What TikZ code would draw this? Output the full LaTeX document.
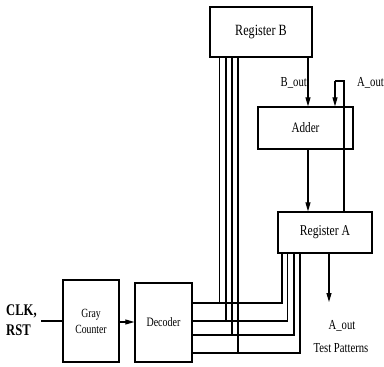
\documentclass[tikz,border=0pt]{standalone}
\usepackage{fontspec}
\usepackage{graphicx}
\setmainfont{Liberation Serif}
\usetikzlibrary{arrows.meta}
\newcommand{\tallt}[1]{\scalebox{0.97}[1.25]{#1}}
\begin{document}
\begin{tikzpicture}[x=1pt,y=-1pt,
  blk/.style={draw,line width=1.3pt,inner sep=0pt,anchor=center},
  wire/.style={line width=1.1pt},
  arr/.style={line width=1.1pt,-{Triangle[length=9pt,width=5pt]}},
  lbl/.style={inner sep=0pt,font=\fontsize{11}{13}\selectfont}]
\useasboundingbox (0,0) rectangle (384,367);
% blocks
\node[blk,minimum width=102pt,minimum height=50pt,font=\fontsize{12.5}{14}\selectfont] (regB) at (261,32) {\tallt{Register B}};
\node[blk,minimum width=95pt,minimum height=42pt,font=\fontsize{11.5}{13}\selectfont] (adder) at (305.5,128) {\tallt{Adder}};
\node[blk,minimum width=94pt,minimum height=41pt,font=\fontsize{12}{14}\selectfont] (regA) at (325,232.5) {\tallt{Register A}};
\node[blk,minimum width=56pt,minimum height=82pt,font=\fontsize{10}{20}\selectfont,align=center] (gray) at (91,321) {\tallt{Gray}\\[-4pt]\tallt{Counter}};
\node[blk,minimum width=57pt,minimum height=79pt,font=\fontsize{10.3}{12}\selectfont] (dec) at (163.5,322.5) {\raisebox{-8pt}{\tallt{Decoder}}};
% labels
\node[inner sep=0pt,anchor=west,align=left,font=\fontsize{13}{20}\selectfont\bfseries] (clk) at (6,320) {\tallt{CLK,}\\\tallt{RST}};
\node[lbl,anchor=east] (bout) at (307,83) {\tallt{B\_out}};
\node[lbl,anchor=west] (aoutlbl) at (357,83) {\tallt{A\_out}};
\node[lbl] (aout) at (342,326) {\tallt{A\_out}};
\node[lbl] (tp) at (341,348) {\tallt{Test Patterns}};
% coordinates
\coordinate (xb) at (308,0);
\coordinate (xf) at (344,81);
\coordinate (xd) at (335,81);
\coordinate (xo) at (329,302);
\coordinate (cin) at (41,321);
% connectors
\draw[line width=2pt] (cin) -- (cin -| gray.west);
\draw[arr] (gray.east |- 0,322) -- (dec.west |- 0,322);
\draw[arr] (regB.south -| xb) -- (adder.north -| xb);
\draw[arr] (adder.south -| xb) -- (regA.north -| xb);
\draw[wire] (regA.north -| xf) -- (xf) -- (xd);
\draw[arr] (xd) -- (adder.north -| xd);
\draw[arr] (regA.south -| xo) -- (xo);
% bus
\foreach \vx/\hy/\rx in {219.5/303/282, 226/321/287.5, 232/335/294, 238/353/300}{
  \coordinate (v) at (\vx,\hy);
  \coordinate (r) at (\rx,\hy);
  \draw[wire] (regB.south -| v) -- (v);
  \draw[wire] (dec.east |- v) -- (r) -- (regA.south -| r);
}
\end{tikzpicture}
\end{document}
